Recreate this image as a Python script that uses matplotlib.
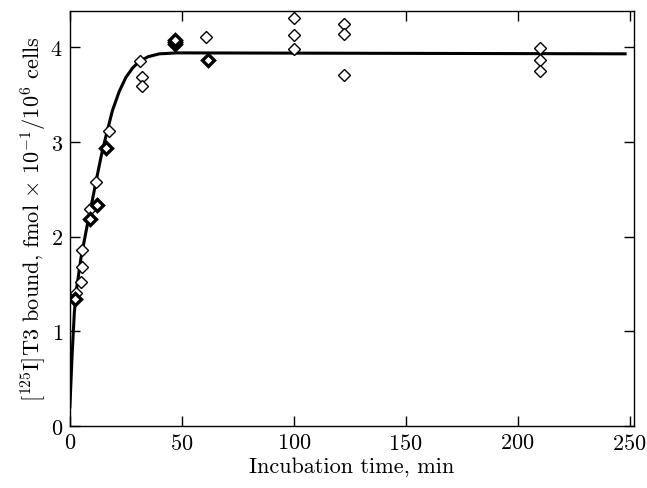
import numpy as np
import matplotlib.pyplot as plt

plt.rcParams['font.family'] = 'cmr10'
plt.rcParams['mathtext.fontset'] = 'cm'
plt.rcParams['axes.formatter.use_mathtext'] = True

# open diamonds
open_t = [2.7, 5.0, 5.2, 5.2, 9.0, 11.6, 17.3, 31.5, 32.0, 32.0, 61.0,
          100.3, 100.3, 100.3, 122.3, 122.3, 122.3, 210.0, 210.0, 210.0]
open_y = [1.40, 1.52, 1.68, 1.86, 2.29, 2.58, 3.11, 3.85, 3.69, 3.59, 4.11,
          4.31, 4.13, 3.98, 4.24, 4.14, 3.71, 3.99, 3.87, 3.75]

# bold (filled) diamonds
bold_t = [2.4, 8.9, 12.3, 16.0, 47.0, 47.0, 47.0, 61.6]
bold_y = [1.34, 2.19, 2.33, 2.94, 4.03, 4.06, 4.08, 3.86]

# fitted curve
curve_t = [0, 1, 2, 3, 5, 8, 10, 12, 14, 16, 19, 22, 25, 28, 31, 35, 40, 48, 248]
curve_y = [0.2, 0.75, 1.2, 1.45, 1.78, 2.15, 2.38, 2.62, 2.85, 3.05, 3.33,
           3.53, 3.68, 3.78, 3.85, 3.90, 3.93, 3.94, 3.93]

fig = plt.figure(figsize=(6.47, 4.89), dpi=100)
ax = fig.add_axes([0.108, 0.127, 0.872, 0.848])

ax.plot(curve_t, curve_y, color='black', lw=2.2, zorder=2)
ax.plot(open_t, open_y, 'D', ms=6.5, mfc='white', mec='black', mew=1.0, zorder=3)
ax.plot(bold_t, bold_y, 'D', ms=6.5, mfc='white', mec='black', mew=2.4, zorder=3)

ax.set_xlim(0, 252)
ax.set_ylim(0, 4.38)
ax.set_xticks([0, 50, 100, 150, 200, 250])
ax.set_yticks([0, 1, 2, 3, 4])
ax.tick_params(direction='in', length=7, width=1, top=True, right=True,
               labelsize=16, pad=5)
for s in ax.spines.values():
    s.set_linewidth(1.0)

ax.set_xlabel('Incubation time, min', fontsize=16, labelpad=2)
ax.set_ylabel(r'$[^{125}$I]T3 bound, fmol $\times\ 10^{-1}/10^{6}$ cells',
              fontsize=16, labelpad=2)

fig.savefig('out.png', dpi=100)
